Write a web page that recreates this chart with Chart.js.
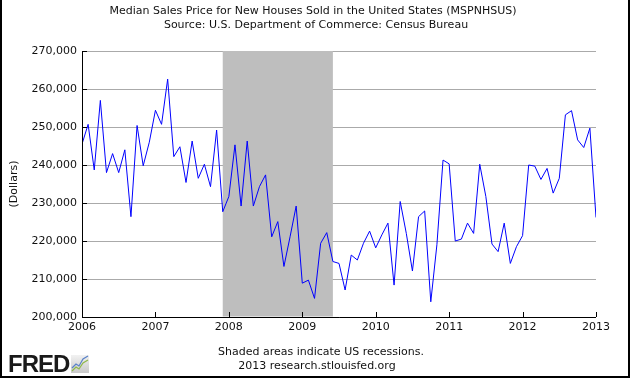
<!DOCTYPE html>
<html>
<head>
<meta charset="utf-8">
<script src="https://cdn.jsdelivr.net/npm/chart.js@4.4.1/dist/chart.umd.min.js"></script>
<style>
  html, body { margin: 0; padding: 0; background: #ffffff; }
  #wrap { width: 630px; height: 378px; position: relative; }
</style>
</head>
<body>
<div id="wrap"><canvas id="c" width="630" height="378"></canvas></div>
<script>
// ---- Data ----
const titleLines = [
  'Median Sales Price for New Houses Sold in the United States (MSPNHSUS)',
  'Source: U.S. Department of Commerce: Census Bureau'
];
const footerLines = ['Shaded areas indicate US recessions.', '2013 research.stlouisfed.org'];
const yAxisLabel = '(Dollars)';
const firstYear = 2006;
const yearTicks = [2006, 2007, 2008, 2009, 2010, 2011, 2012, 2013];
const yTickValues = [200000, 210000, 220000, 230000, 240000, 250000, 260000, 270000];

// Monthly median sales price, Jan 2006 .. Jan 2013
const price2006 = [245500, 250700, 238700, 257000, 238000, 243000, 238000, 244000, 226400, 250400, 239800, 246000];
const price2007 = [254400, 250700, 262600, 242200, 244800, 235400, 246300, 236500, 240200, 234300, 249200, 227700];
const price2008 = [231700, 245300, 229200, 246300, 229200, 234300, 237400, 221100, 225100, 213300, 221100, 229200];
const price2009 = [208900, 209700, 204900, 219400, 222200, 214600, 214100, 207100, 216300, 215000, 219400, 222600];
const price2010 = [218200, 221600, 224700, 208400, 230400, 222000, 212100, 226400, 227900, 204000, 219000, 241300];
const price2011 = [240300, 220000, 220500, 224700, 222000, 240200, 231700, 219200, 217200, 224700, 214100, 218500];
const price2012 = [221400, 240000, 239700, 236200, 239100, 232600, 236500, 253200, 254300, 246600, 244600, 249700];
const price2013 = [226200];
const medianPrice = [].concat(price2006, price2007, price2008, price2009, price2010, price2011, price2012, price2013);

// Recession (NBER): Dec 2007 .. Jun 2009
const recessionStart = '2007-12';
const recessionEnd = '2009-06';

// ---- Helpers ----
function monthIndex(ym) {
  const [y, m] = ym.split('-').map(Number);
  return (y - firstYear) * 12 + (m - 1);
}
const points = medianPrice.map((v, i) => ({ x: i, y: v }));
const FONT = '"DejaVu Sans", Verdana, sans-serif';

const decorPlugin = {
  id: 'decor',
  beforeDatasetsDraw(chart) {
    const { ctx, chartArea, scales } = chart;
    const x0 = scales.x.getPixelForValue(monthIndex(recessionStart));
    const x1 = scales.x.getPixelForValue(monthIndex(recessionEnd));
    ctx.save();
    ctx.fillStyle = '#bebebe';
    ctx.fillRect(x0, chartArea.top, x1 - x0, chartArea.bottom - chartArea.top - 0.5);
    ctx.restore();
  },
  afterDatasetsDraw(chart) {
    const { ctx, chartArea, scales } = chart;
    ctx.save();
    ctx.strokeStyle = '#000';
    ctx.lineWidth = 1;
    // axis lines
    ctx.beginPath();
    ctx.moveTo(Math.round(chartArea.left) + 0.5, chartArea.top);
    ctx.lineTo(Math.round(chartArea.left) + 0.5, Math.round(chartArea.bottom) + 0.5);
    ctx.lineTo(chartArea.right, Math.round(chartArea.bottom) + 0.5);
    ctx.stroke();
    // inward tick marks
    ctx.beginPath();
    yTickValues.forEach(v => {
      const y = Math.round(scales.y.getPixelForValue(v)) + 0.5;
      ctx.moveTo(chartArea.left, y);
      ctx.lineTo(chartArea.left + 5, y);
    });
    yearTicks.forEach(yr => {
      const x = Math.round(scales.x.getPixelForValue((yr - firstYear) * 12)) + 0.5;
      ctx.moveTo(x, chartArea.bottom);
      ctx.lineTo(x, chartArea.bottom - 5);
    });
    ctx.stroke();
    ctx.restore();
  },
  afterDraw(chart) {
    const { ctx, chartArea } = chart;
    // title
    ctx.save();
    ctx.fillStyle = '#111';
    ctx.font = '11px ' + FONT;
    ctx.textAlign = 'center';
    ctx.textBaseline = 'middle';
    ctx.fillText(titleLines[0], 313, 11);
    ctx.fillText(titleLines[1], 316, 25);
    ctx.restore();

    // y axis title
    ctx.save();
    ctx.fillStyle = '#111';
    ctx.font = '11px ' + FONT;
    ctx.textAlign = 'center';
    ctx.textBaseline = 'middle';
    ctx.translate(14, (chartArea.top + chartArea.bottom) / 2);
    ctx.rotate(-Math.PI / 2);
    ctx.fillText(yAxisLabel, 0, 0);
    ctx.restore();

    ctx.save();
    ctx.fillStyle = '#111';
    ctx.font = '11px ' + FONT;
    ctx.textAlign = 'center';
    ctx.textBaseline = 'middle';
    ctx.fillText(footerLines[0], 321, 352);
    ctx.fillText(footerLines[1], 317, 366);

    // FRED logo
    ctx.fillStyle = '#1a1a1a';
    ctx.font = 'bold 24px "Liberation Sans", Arial, sans-serif';
    ctx.textAlign = 'left';
    ctx.textBaseline = 'alphabetic';
    try { ctx.letterSpacing = '-1px'; } catch (e) {}
    ctx.fillText('FRED', 8, 372);
    try { ctx.letterSpacing = '0px'; } catch (e) {}
    // small chart icon
    const g = ctx.createLinearGradient(0, 354, 0, 373);
    g.addColorStop(0, '#f4f4f4');
    g.addColorStop(1, '#c9c9c9');
    ctx.fillStyle = g;
    ctx.fillRect(71, 355, 18, 18);
    ctx.lineWidth = 1.2;
    ctx.strokeStyle = '#8fb84a';
    ctx.beginPath();
    ctx.moveTo(72, 371); ctx.lineTo(76, 367); ctx.lineTo(79, 369); ctx.lineTo(83, 363); ctx.lineTo(88, 360);
    ctx.stroke();
    ctx.strokeStyle = '#5a82c8';
    ctx.beginPath();
    ctx.moveTo(72, 368); ctx.lineTo(76, 364); ctx.lineTo(79, 366); ctx.lineTo(83, 359); ctx.lineTo(88, 356);
    ctx.stroke();

    // outer frame
    ctx.fillStyle = '#000';
    ctx.fillRect(0, 0, 2, 378);
    ctx.fillRect(628, 0, 2, 378);
    ctx.fillRect(0, 376, 630, 2);
    ctx.restore();
  }
};

new Chart(document.getElementById('c'), {
  type: 'line',
  data: {
    datasets: [{
      data: points,
      borderColor: '#0000ff',
      borderWidth: 1,
      pointRadius: 0,
      tension: 0,
      fill: false
    }]
  },
  options: {
    responsive: false,
    animation: false,
    events: [],
    layout: { padding: { left: 0, right: 34, top: 51, bottom: 41 } },
    plugins: {
      legend: { display: false },
      tooltip: { enabled: false },
      title: { display: false }
    },
    scales: {
      x: {
        type: 'linear',
        min: 0,
        max: (yearTicks[yearTicks.length - 1] - firstYear) * 12,
        grid: { display: false, drawTicks: false },
        border: { display: false },
        ticks: {
          stepSize: 12,
          padding: 4,
          maxRotation: 0,
          autoSkip: false,
          color: '#111',
          font: { family: FONT, size: 11 },
          callback: v => String(firstYear + v / 12)
        },
        afterFit(scale) { scale.height = 20; }
      },
      y: {
        min: yTickValues[0],
        max: yTickValues[yTickValues.length - 1],
        grid: { color: '#aaaaaa', lineWidth: 1, drawTicks: false },
        border: { display: false },
        ticks: {
          stepSize: 10000,
          padding: 5,
          color: '#111',
          font: { family: FONT, size: 11 },
          callback: v => v.toLocaleString('en-US')
        },
        afterFit(scale) { scale.width = 82; }
      }
    }
  },
  plugins: [decorPlugin]
});
</script>
</body>
</html>
